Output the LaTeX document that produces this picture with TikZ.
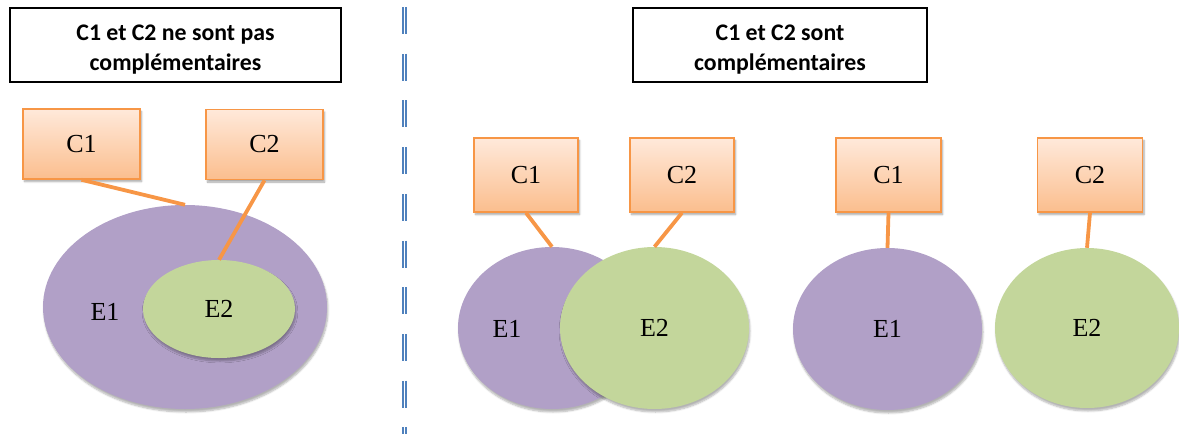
\documentclass[tikz,border=0pt]{standalone}
\usepackage{fontspec}
\setmainfont{Liberation Serif}
\newfontfamily\titlefont{Carlito}
\usetikzlibrary{positioning,shapes.geometric,shadows.blur}
\definecolor{boxTop}{HTML}{FFE9DA}
\definecolor{boxBottom}{HTML}{FBBE8E}
\definecolor{boxBorder}{HTML}{F79646}
\definecolor{setPurple}{HTML}{B1A0C7}
\definecolor{setGreen}{HTML}{C3D69B}
\definecolor{sepBlue}{HTML}{4F81BD}

\begin{document}
\begin{tikzpicture}[
    x=1pt, y=-1pt,
    title/.style={
        rectangle, draw=black, line width=1.6pt,
        align=center, inner sep=0pt,
        font=\titlefont\bfseries\fontsize{23.8}{30}\selectfont
    },
    cbox/.style={
        rectangle, draw=boxBorder, line width=1.6pt,
        top color=boxTop, bottom color=boxBottom,
        minimum height=72pt, inner sep=0pt,
        font=\fontsize{26}{30}\selectfont,
        blur shadow={shadow xshift=1.5pt, shadow yshift=-2.5pt, shadow opacity=35, shadow blur steps=6}
    },
    eset/.style={
        ellipse, inner sep=0pt, draw=none,
        font=\fontsize{26}{30}\selectfont,
        blur shadow={shadow xshift=1pt, shadow yshift=-3pt, shadow opacity=30, shadow blur steps=6}
    },
    elabel/.style={font=\fontsize{26}{30}\selectfont, inner sep=0pt},
    link/.style={draw=boxBorder, line width=3.8pt}
]
  \useasboundingbox (0,0) rectangle (1179,434);

  % Titles
  \node[title, minimum width=331pt, minimum height=74pt] (titleA) at (175.5,45)
      {\rule{0pt}{25pt}C1 et C2 ne sont pas\\compl\'ementaires};
  \node[title, minimum width=294pt, minimum height=74pt] (titleB) at (780,45)
      {\rule{0pt}{25pt}C1 et C2 sont\\compl\'ementaires};

  % Separator
  \coordinate (sepTop) at (404.5,7);
  \coordinate (sepBot) at (404.5,434);
  \draw[sepBlue, line width=1.8pt, double=white, double distance=1.6pt,
        dash pattern=on 27pt off 19.7pt] (sepTop) -- (sepBot);

  % Left: E2 inside E1
  \node[eset, fill=setPurple, minimum width=284pt, minimum height=204pt] (aE1) at (185,307) {};
  \node[eset, fill=setGreen, minimum width=152pt, minimum height=98pt] (aE2) at (219,309) {E2};
  \node[elabel] (aE1l) at (105,312) {E1};
  \node[cbox, minimum width=117pt, minimum height=70pt] (aC1) at (81.5,144) {C1};
  \node[cbox, minimum width=117pt, minimum height=70pt] (aC2) at (264.5,144.5) {C2};

  % Middle: overlapping sets
  \node[eset, fill=setPurple, minimum width=188pt, minimum height=162pt] (bE1) at (552,328) {};
  \node[eset, fill=setGreen, minimum width=189pt, minimum height=162pt] (bE2) at (654.5,328) {E2};
  \node[elabel] (bE1l) at (507,329) {E1};
  \node[cbox, minimum width=104pt, minimum height=74pt] (bC1) at (526,175) {C1};
  \node[cbox, minimum width=104pt, minimum height=74pt] (bC2) at (682,175) {C2};

  % Right: disjoint sets
  \node[eset, fill=setPurple, minimum width=189pt, minimum height=162pt] (cE1) at (887.5,329) {E1};
  \node[eset, fill=setGreen, minimum width=184pt, minimum height=160pt] (cE2) at (1087,328) {E2};
  \node[cbox, minimum width=105pt, minimum height=74pt] (cC1) at (888.5,175) {C1};
  \node[cbox, minimum width=105pt, minimum height=74pt] (cC2) at (1090,175) {C2};

  % Links
  \draw[link] (aC1.south) -- (aE1.north);
  \draw[link] (aC2.south) -- (aE2.north);
  \draw[link] (bC1.south) -- (bE1.north);
  \draw[link] (bC2.south) -- (bE2.north);
  \draw[link] (cC1.south) -- (cE1.north);
  \draw[link] (cC2.south) -- (cE2.north);

\end{tikzpicture}
\end{document}
